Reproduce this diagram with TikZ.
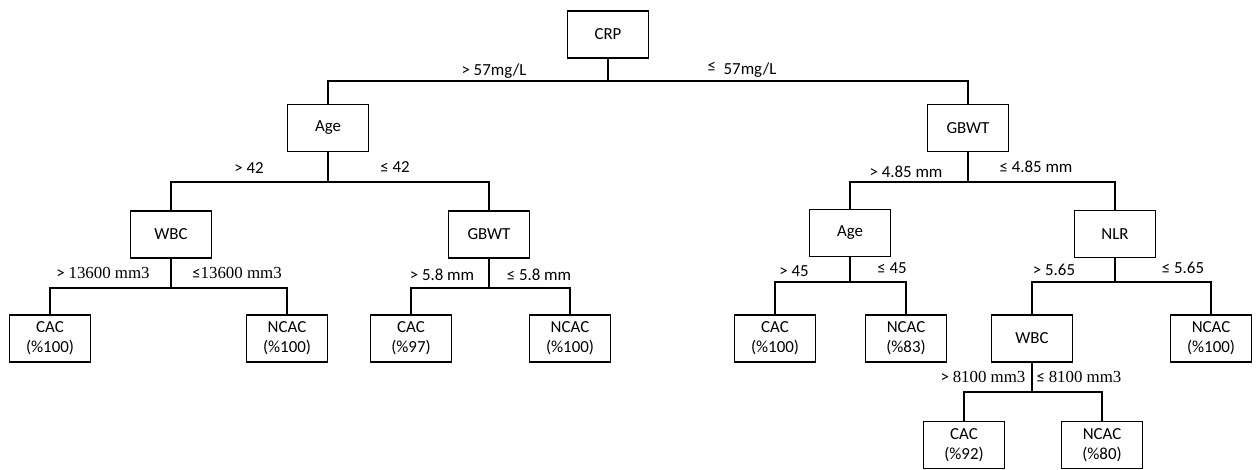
\documentclass[tikz,border=0pt]{standalone}
\usepackage{fontspec}
\setmainfont{Carlito}
\newfontfamily\numserif{Liberation Serif}
\tikzset{
  treebox/.style={draw,line width=1.1pt,minimum width=1.62cm,minimum height=0.94cm,
    inner sep=0pt,align=center,font=\fontsize{9.6}{11.5}\selectfont},
  branch/.style={line width=0.85pt},
  cond/.style={inner sep=0pt,font=\fontsize{9.6}{11.5}\selectfont}
}
\begin{document}
\begin{tikzpicture}
\useasboundingbox (0,0) rectangle (25.2,-9.38);

% Root and inner nodes
\node[treebox] (crp) at (12.16,-0.69) {CRP};
\node[treebox] (age1) at (6.56,-2.56) {Age};
\node[treebox] (gbwt1) at (19.36,-2.56) {GBWT};
\node[treebox] (wbc1) at (3.42,-4.69) {WBC};
\node[treebox] (gbwt2) at (9.78,-4.69) {GBWT};
\node[treebox] (age2) at (17.0,-4.66) {Age};
\node[treebox] (nlr) at (22.3,-4.68) {NLR};
\node[treebox] (wbc2) at (20.64,-6.77) {WBC};

% Leaves
\node[treebox] (cac1) at (1.0,-6.77) {CAC\\(\%100)};
\node[treebox] (ncac1) at (5.74,-6.77) {NCAC\\(\%100)};
\node[treebox] (cac2) at (8.22,-6.77) {CAC\\(\%97)};
\node[treebox] (ncac2) at (11.4,-6.77) {NCAC\\(\%100)};
\node[treebox] (cac3) at (15.5,-6.77) {CAC\\(\%100)};
\node[treebox] (ncac3) at (18.12,-6.77) {NCAC\\(\%83)};
\node[treebox] (ncac4) at (24.22,-6.77) {NCAC\\(\%100)};
\node[treebox] (cac4) at (19.28,-8.9) {CAC\\(\%92)};
\node[treebox] (ncac5) at (22.04,-8.9) {NCAC\\(\%80)};

% Branches
\foreach \p/\l/\r/\y in {crp/age1/gbwt1/-1.62, age1/wbc1/gbwt2/-3.64,
    gbwt1/age2/nlr/-3.64, wbc1/cac1/ncac1/-5.76, gbwt2/cac2/ncac2/-5.76,
    age2/cac3/ncac3/-5.64, nlr/wbc2/ncac4/-5.64, wbc2/cac4/ncac5/-7.84} {
  \coordinate (\p-split) at (\p.south |- 0,\y);
  \draw[branch] (\p.south) -- (\p-split) -| (\l.north);
  \draw[branch] (\p-split) -| (\r.north);
}

% Split conditions
\node[cond] (crp-gt) at (9.88,-1.42) {> 57mg/L};
\node[cond] (crp-le) at (14.84,-1.40) {\raisebox{2pt}{≤}\ \ 57mg/L};
\node[cond] (age1-gt) at (4.98,-3.36) {> 42};
\node[cond] (age1-le) at (7.9,-3.34) {≤ 42};
\node[cond] (gbwt1-gt) at (18.12,-3.44) {> 4.85 mm};
\node[cond] (gbwt1-le) at (20.72,-3.34) {≤ 4.85 mm};
\node[cond] (wbc1-gt) at (2.06,-5.46) {> {\numserif 13600 mm3}};
\node[cond] (wbc1-le) at (4.74,-5.46) {≤{\numserif 13600 mm3}};
\node[cond] (gbwt2-gt) at (8.84,-5.5) {> 5.8 mm};
\node[cond] (gbwt2-le) at (10.78,-5.5) {≤ 5.8 mm};
\node[cond] (age2-gt) at (15.88,-5.42) {> 45};
\node[cond] (age2-le) at (17.84,-5.36) {≤ 45};
\node[cond] (nlr-gt) at (21.08,-5.4) {> 5.65};
\node[cond] (nlr-le) at (23.66,-5.36) {≤ 5.65};
\node[cond] (wbc2-gt) at (19.66,-7.54) {> {\numserif 8100 mm3}};
\node[cond] (wbc2-le) at (21.58,-7.54) {≤ {\numserif 8100 mm3}};

\end{tikzpicture}
\end{document}
